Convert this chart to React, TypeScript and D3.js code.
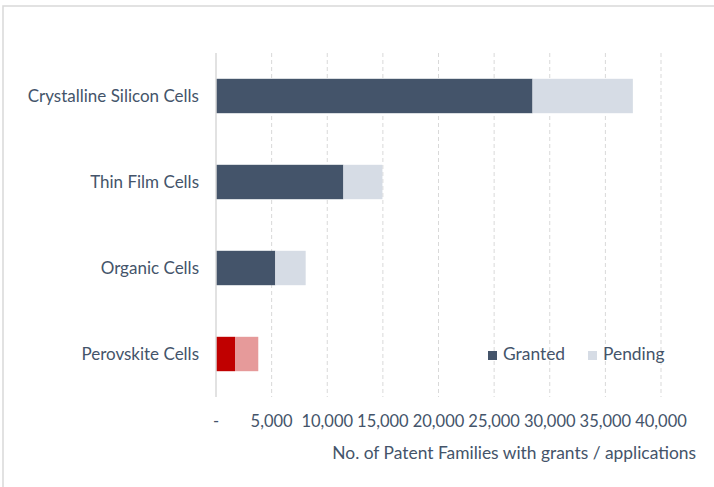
import React, { useRef, useEffect } from "react";
import * as d3 from "d3";

const categories = ["Crystalline Silicon Cells", "Thin Film Cells", "Organic Cells", "Perovskite Cells"];
const granted = [28450, 11450, 5330, 1710];
const pending = [9020, 3510, 2730, 2090];
const xTicks = [0, 5000, 10000, 15000, 20000, 25000, 30000, 35000, 40000];
const tickLabels = ["-", "5,000", "10,000", "15,000", "20,000", "25,000", "30,000", "35,000", "40,000"];
const seriesNames = ["Granted", "Pending"];

const W = 714;
const H = 487;
const textColor = "#44546a";
const font = "Lato, 'Open Sans', sans-serif";

const App = () => {
    const ref = useRef<SVGSVGElement>(null);

    useEffect(() => {
        const svg = d3.select(ref.current);
        svg.selectAll("*").remove();

        const x = d3.scaleLinear().domain([0, 40000]).range([216, 661]);
        const y = d3.scaleBand().domain(categories).range([53, 397]).paddingInner(0.6).paddingOuter(0.3);

        // frame (cropped on right and bottom)
        svg.append("rect")
            .attr("x", 3).attr("y", 6)
            .attr("width", W + 10).attr("height", H + 10)
            .attr("fill", "#fff").attr("stroke", "#d9d9d9").attr("stroke-width", 1.5);

        // grid
        svg.append("g").selectAll("line")
            .data(xTicks.slice(1))
            .join("line")
            .attr("x1", d => x(d)).attr("x2", d => x(d))
            .attr("y1", 53).attr("y2", 397)
            .attr("stroke", "#d9d9d9").attr("stroke-dasharray", "4,3");

        // bars
        const rows = categories.map((c, i) => ({ c, g: granted[i], p: pending[i], red: c === "Perovskite Cells" }));
        const bars = svg.append("g");
        bars.selectAll("rect.g")
            .data(rows).join("rect").attr("class", "g")
            .attr("x", x(0)).attr("y", d => y(d.c)!)
            .attr("width", d => x(d.g) - x(0)).attr("height", y.bandwidth())
            .attr("fill", d => d.red ? "#c00000" : "#44546a");
        bars.selectAll("rect.p")
            .data(rows).join("rect").attr("class", "p")
            .attr("x", d => x(d.g)).attr("y", d => y(d.c)!)
            .attr("width", d => x(d.g + d.p) - x(d.g)).attr("height", y.bandwidth())
            .attr("fill", d => d.red ? "#e69a9a" : "#d6dce5");

        // axis line
        svg.append("line")
            .attr("x1", x(0)).attr("x2", x(0)).attr("y1", 53).attr("y2", 397)
            .attr("stroke", "#d9d9d9").attr("stroke-width", 1.5);

        // category labels
        svg.append("g").selectAll("text")
            .data(categories).join("text")
            .attr("x", 199).attr("y", d => y(d)! + y.bandwidth() / 2)
            .attr("dy", "0.35em")
            .attr("text-anchor", "end")
            .attr("font-family", font).attr("font-size", 17)
            .attr("fill", textColor)
            .text(d => d);

        // tick labels
        svg.append("g").selectAll("text")
            .data(xTicks).join("text")
            .attr("x", d => x(d)).attr("y", 427)
            .attr("text-anchor", "middle")
            .attr("font-family", font).attr("font-size", 16.5)
            .attr("fill", textColor)
            .text((d, i) => tickLabels[i]);

        // axis title
        svg.append("text")
            .attr("x", 696).attr("y", 459)
            .attr("text-anchor", "end")
            .attr("font-family", font).attr("font-size", 17.4)
            .attr("fill", textColor)
            .text("No. of Patent Families with grants / applications");

        // legend
        const legendX = [488, 588];
        const legendColors = ["#44546a", "#d6dce5"];
        const lg = svg.append("g");
        seriesNames.forEach((s, i) => {
            lg.append("rect")
                .attr("x", legendX[i]).attr("y", 351)
                .attr("width", 9).attr("height", 9)
                .attr("fill", legendColors[i]);
            lg.append("text")
                .attr("x", legendX[i] + 15).attr("y", 360)
                .attr("font-family", font).attr("font-size", 17.4)
                .attr("fill", textColor)
                .text(s);
        });
    }, []);

    return (
        <svg ref={ref} width={W} height={H} style={{ position: "absolute", left: 0, top: 0 }}></svg>
    );
};

export default App;
